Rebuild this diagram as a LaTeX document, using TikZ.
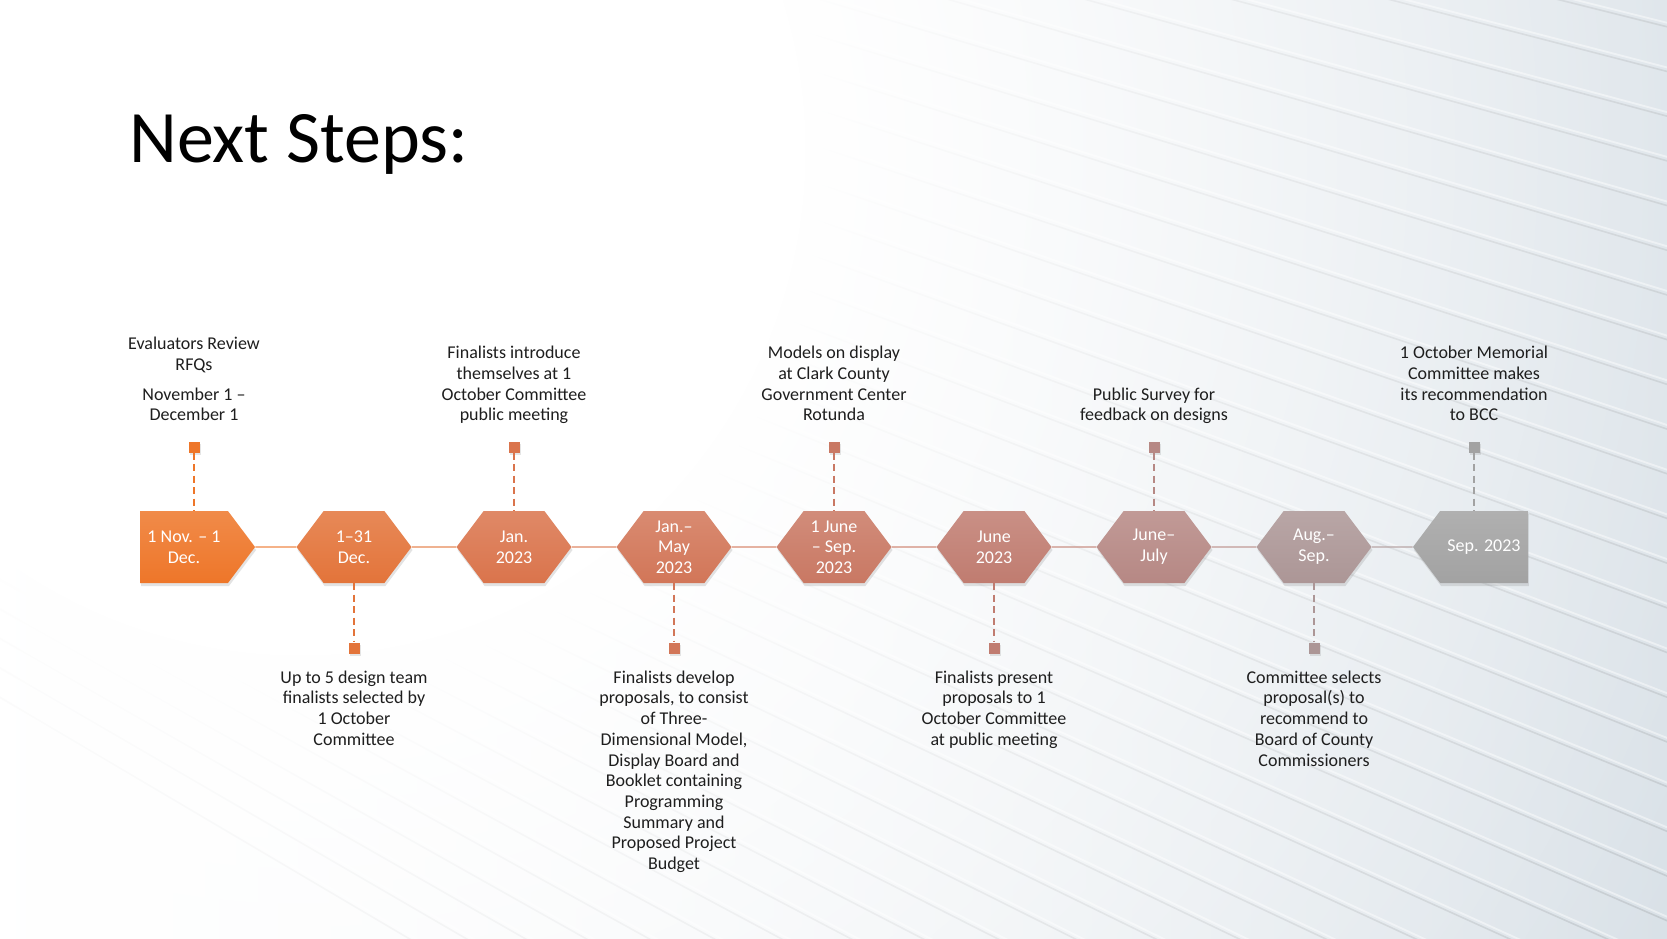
\documentclass[tikz,border=0pt]{standalone}
\usepackage{fontspec}
\setmainfont{Carlito}
\usetikzlibrary{shapes.symbols,shadows,fadings}
\definecolor{tlA}{HTML}{EE7629}
\definecolor{tlB}{HTML}{E3743A}
\definecolor{tlC}{HTML}{DA744C}
\definecolor{tlD}{HTML}{D27658}
\definecolor{tlE}{HTML}{C97863}
\definecolor{tlF}{HTML}{C07C70}
\definecolor{tlG}{HTML}{B68884}
\definecolor{tlH}{HTML}{AC9696}
\definecolor{tlI}{HTML}{A2A2A2}
\definecolor{bgright}{HTML}{CAD5DE}
\definecolor{notetext}{HTML}{1E1E1E}
\newcommand{\notefont}{\fontsize{18}{20.7}\selectfont}
\newcommand{\boxfont}{\fontsize{18}{20.7}\selectfont}
\pgfdeclareradialshading{glowshade}{\pgfpoint{0bp}{0bp}}{color(0bp)=(white); color(5bp)=(white); color(20bp)=(black); color(50bp)=(black)}
\pgfdeclarefading{glowfade}{\pgfuseshading{glowshade}}

\begin{document}
\begin{tikzpicture}[x=1pt, y=-1pt,
  stage/.style={signal, signal to=east and west, signal pointer angle=106,
    minimum width=115pt, minimum height=72pt, inner sep=0pt,
    top color=#1!85!white, bottom color=#1, text=white, align=center, font=\boxfont,
    drop shadow={opacity=.22, shadow xshift=1pt, shadow yshift=-3pt}},
  flag/.style={rectangle, fill=#1, minimum size=11pt, inner sep=0pt,
    drop shadow={opacity=.2, shadow xshift=1pt, shadow yshift=-2pt}},
  dashline/.style={#1, line width=1.8pt, dash pattern=on 7pt off 4.5pt},
  spine/.style={#1!85!white, line width=1.3pt},
  note/.style={align=center, font=\notefont, inner sep=0pt, text=notetext}]

  \newcommand\X{160}
  \newcommand\Y{547}

  % background
  \useasboundingbox (0,0) rectangle (1667,938);
  \shade[left color=white, right color=bgright] (0,0) rectangle (1667,938);
  \begin{scope}
    \clip (0,0) rectangle (1667,938);
    \foreach \i in {0,...,40}{
      \draw[black!45!bgright, line width=1.6pt, opacity=.32] (-3200,-1190) -- (1700,-100+45*\i);
      \draw[white, line width=1.8pt, opacity=.45] (-3200,-1194) -- (1700,-104+45*\i);
    }
  \end{scope}
  \fill[white, path fading=glowfade] (300,150) circle [radius=2500pt];

  \node[anchor=base west, inner sep=0pt, font=\fontsize{74}{88}\selectfont] (ttl) at (129,162) {Next Steps:};

  % stages
  \node[stage=tlA, signal to=east] (bA) at (184+0*\X, \Y) {1 Nov. -- 1\\Dec.};
  \node[stage=tlB] (bB) at (194+1*\X, \Y) {1--31\\Dec.};
  \node[stage=tlC] (bC) at (194+2*\X, \Y) {Jan.\\2023};
  \node[stage=tlD] (bD) at (194+3*\X, \Y) {Jan.--\\May\\2023};
  \node[stage=tlE] (bE) at (194+4*\X, \Y) {1 June\\-- Sep.\\2023};
  \node[stage=tlF] (bF) at (194+5*\X, \Y) {June\\2023};
  \node[stage=tlG] (bG) at (194+6*\X, \Y) {June--\\July};
  \node[stage=tlH] (bH) at (194+7*\X, \Y) {Aug.--\\Sep.};
  \node[stage=tlI, signal to=west] (bI) at (204+8*\X, \Y) {Sep. 2023};

  \draw[spine=tlA] (bA) -- (bB); %% A-B
  \draw[spine=tlB] (bB) -- (bC); %% B-C
  \draw[spine=tlC] (bC) -- (bD); %% C-D
  \draw[spine=tlD] (bD) -- (bE); %% D-E
  \draw[spine=tlE] (bE) -- (bF); %% E-F
  \draw[spine=tlF] (bF) -- (bG); %% F-G
  \draw[spine=tlG] (bG) -- (bH); %% G-H
  \draw[spine=tlH] (bH) -- (bI); %% H-I

  % flags above
  \node[flag=tlA] (fA) at (194+0*\X, 447) {};
  \node[flag=tlC] (fC) at (194+2*\X, 447) {};
  \node[flag=tlE] (fE) at (194+4*\X, 447) {};
  \node[flag=tlG] (fG) at (194+6*\X, 447) {};
  \node[flag=tlI] (fI) at (194+8*\X, 447) {};
  \draw[dashline=tlA] (fA) -- (fA |- bA.north);
  \draw[dashline=tlC] (fC) -- (bC.north);
  \draw[dashline=tlE] (fE) -- (bE.north);
  \draw[dashline=tlG] (fG) -- (bG.north);
  \draw[dashline=tlI] (fI) -- (fI |- bI.north);

  % flags below
  \node[flag=tlB] (gB) at (194+1*\X, 648) {};
  \node[flag=tlD] (gD) at (194+3*\X, 648) {};
  \node[flag=tlF] (gF) at (194+5*\X, 648) {};
  \node[flag=tlH] (gH) at (194+7*\X, 648) {};
  \draw[dashline=tlB] (bB.south) -- (gB);
  \draw[dashline=tlD] (bD.south) -- (gD);
  \draw[dashline=tlF] (bF.south) -- (gF);
  \draw[dashline=tlH] (bH.south) -- (gH);

  % notes above
  \node[note, anchor=south] (nA) at (194+0*\X, 427.2) {Evaluators Review\\RFQs\\[9pt]November 1 --\\December 1\strut};
  \node[note, anchor=south] (nC) at (194+2*\X, 427.2) {Finalists introduce\\themselves at 1\\October Committee\\public meeting\strut};
  \node[note, anchor=south] (nE) at (194+4*\X, 427.2) {Models on display\\at Clark County\\Government Center\\Rotunda\strut};
  \node[note, anchor=south] (nG) at (194+6*\X, 427.2) {Public Survey for\\feedback on designs\strut};
  \node[note, anchor=south] (nI) at (194+8*\X, 427.2) {1 October Memorial\\Committee makes\\its recommendation\\to BCC\strut};

  % notes below
  \node[note, anchor=north] (nB) at (194+1*\X, 668.5) {\strut Up to 5 design team\\finalists selected by\\1 October\\Committee};
  \node[note, anchor=north] (nD) at (194+3*\X, 668.5) {\strut Finalists develop\\proposals, to consist\\of Three-\\Dimensional Model,\\Display Board and\\Booklet containing\\Programming\\Summary and\\Proposed Project\\Budget};
  \node[note, anchor=north] (nF) at (194+5*\X, 668.5) {\strut Finalists present\\proposals to 1\\October Committee\\at public meeting};
  \node[note, anchor=north] (nH) at (194+7*\X, 668.5) {\strut Committee selects\\proposal(s) to\\recommend to\\Board of County\\Commissioners};

\end{tikzpicture}
\end{document}
